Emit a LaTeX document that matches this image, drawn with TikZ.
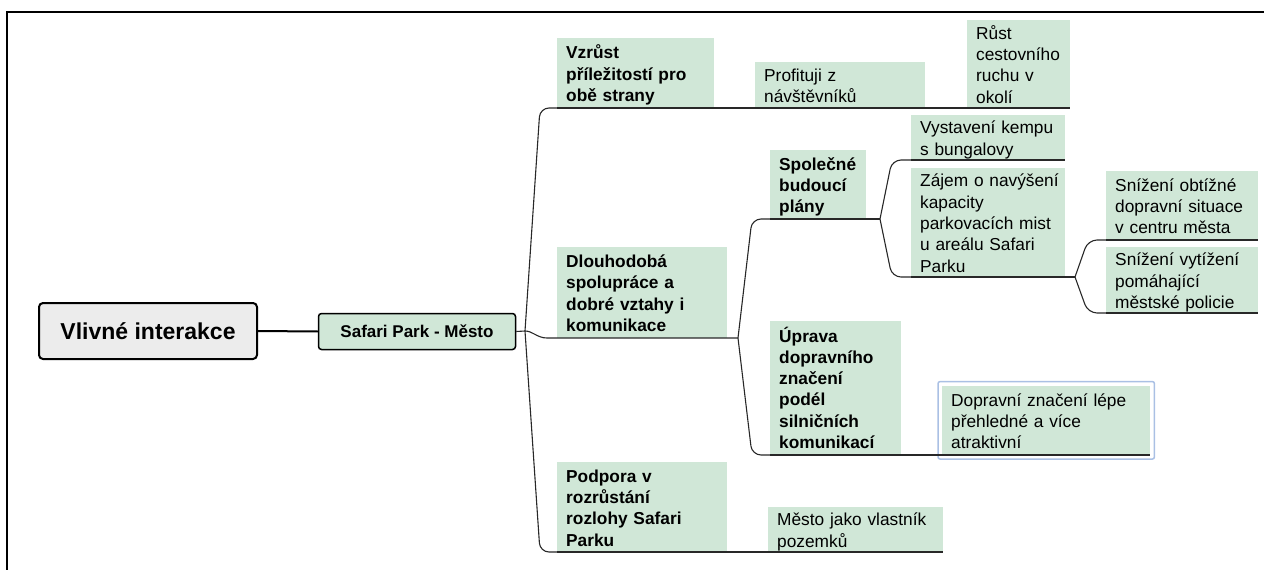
\documentclass[tikz,border=0pt]{standalone}
\usepackage{fontspec}
\setmainfont{Liberation Sans}
\definecolor{boxgreen}{RGB}{208,231,215}
\definecolor{rootgray}{RGB}{236,236,236}
\definecolor{selblue}{RGB}{170,192,228}
\definecolor{conncol}{RGB}{40,40,40}
\newcommand{\lns}[1]{\raisebox{-3pt}[\height][\depth]{\begin{tabular}{@{\hspace{9pt}}l@{}}#1\end{tabular}}}
\begin{document}
\begin{tikzpicture}[x=1pt,y=-1pt,
  tb/.style={rectangle, fill=boxgreen, inner xsep=0pt, inner ysep=0pt, anchor=south west, align=left,
     font=\fontsize{17.3}{21.3}\selectfont},
  tbb/.style={tb, font=\fontsize{17.3}{21.3}\selectfont\bfseries},
  cn/.style={draw=conncol, line width=1.1pt, rounded corners=9pt},
  ln/.style={draw=conncol, line width=1.1pt},
]
\useasboundingbox (0,0) rectangle (1264,570);
\draw[line width=2.5pt] (7,570) -- (7,12) -- (1264,12);

% root and main topic
\node[draw=black, line width=2pt, fill=rootgray, rounded corners=4pt, minimum width=218pt, minimum height=56pt,
      font=\fontsize{23}{27}\selectfont\bfseries] (root) at (148,331) {Vlivné interakce};
\node[draw=black, line width=1.5pt, fill=boxgreen, rounded corners=3pt, minimum width=197pt, minimum height=36pt,
      font=\fontsize{17}{20}\selectfont\bfseries] (sp) at (417,331.5) {Safari Park - Město};
\draw[line width=2pt] (root.east) -- (sp.west);

% boxes
\node[tbb, text width=157pt, minimum height=70pt] (vz) at (557,108) {\lns{Vzrůst\\příležitostí pro\\obě strany}};
\node[tb, text width=170pt, minimum height=46pt] (pr) at (755,108) {\lns{Profituji z\\návštěvníků}};
\node[tb, text width=103pt, minimum height=88pt] (ru) at (967,108) {\lns{Růst\\cestovního\\ruchu v\\okolí}};
\node[tbb, text width=170pt, minimum height=91pt] (dl) at (557,338) {\lns{Dlouhodobá\\spolupráce a\\dobré vztahy i\\komunikace}};
\node[tbb, text width=96pt, minimum height=69pt] (sb) at (770,219) {\lns{Společné\\budoucí\\plány}};
\node[tb, text width=154pt, minimum height=45pt] (vy) at (911,160) {\lns{Vystavení kempu\\s bungalovy}};
\node[tb, text width=154pt, minimum height=109pt] (za) at (911,277) {\lns{Zájem o navýšení\\kapacity\\parkovacích mist\\u areálu Safari\\Parku}};
\node[tb, text width=152pt, minimum height=69pt] (so) at (1106,240) {\lns{Snížení obtížné\\dopravní situace\\v centru města}};
\node[tb, text width=152pt, minimum height=66pt] (sv) at (1106,313) {\lns{Snížení vytížení\\pomáhající\\městské policie}};
\node[tbb, text width=131pt, minimum height=134pt] (up) at (770,455) {\lns{Úprava\\dopravního\\značení\\podél\\silničních\\komunikací}};
\node[tb, text width=208pt, minimum height=69pt] (dz) at (942,455) {\lns{Dopravní značení lépe\\přehledné a více\\atraktivní}};
\node[tbb, text width=170pt, minimum height=90pt] (po) at (557,552) {\lns{Podpora v\\rozrůstání\\rozlohy Safari\\Parku}};
\node[tb, text width=175pt, minimum height=45pt] (me) at (768,552) {\lns{Město jako vlastník\\pozemků}};

\draw[selblue, line width=1.5pt, rounded corners=2pt] ([shift={(-4,4)}]dz.south west) rectangle ([shift={(4,-4)}]dz.north east);

% fork points
\coordinate (F1) at (525,331);
\coordinate (F2) at (738,338);
\coordinate (F3) at (880,219);
\coordinate (F4) at (1075,277);

% level 1
\draw[ln] (sp.east) -- (F1);
\draw[cn] (F1) -- (540,108) -- (vz.south west);
\draw[ln] (vz.south west) -- (vz.south east) -- (pr.south west) -- (pr.south east) -- (ru.south west) -- (ru.south east);
\draw[ln] (F1) .. controls (533,331) and (537,338) .. (547,338) -- (dl.south west) -- (F2);
\draw[cn] (F1) -- (540,552) -- (po.south west);
\draw[ln] (po.south west) -- (po.south east) -- (me.south west) -- (me.south east);

% level 2
\draw[cn] (F2) -- (752,219) -- (sb.south west);
\draw[ln] (sb.south west) -- (F3);
\draw[cn] (F2) -- (752,455) -- (up.south west);
\draw[ln] (up.south west) -- (up.south east) -- (dz.south west) -- (dz.south east);

% level 3
\draw[cn] (F3) -- (892,160) -- (vy.south west);
\draw[ln] (vy.south west) -- (vy.south east);
\draw[cn] (F3) -- (892,277) -- (za.south west);
\draw[ln] (za.south west) -- (F4);

% level 4
\draw[cn] (F4) -- (1088,240) -- (so.south west);
\draw[ln] (so.south west) -- (so.south east);
\draw[cn] (F4) -- (1088,313) -- (sv.south west);
\draw[ln] (sv.south west) -- (sv.south east);
\end{tikzpicture}
\end{document}
